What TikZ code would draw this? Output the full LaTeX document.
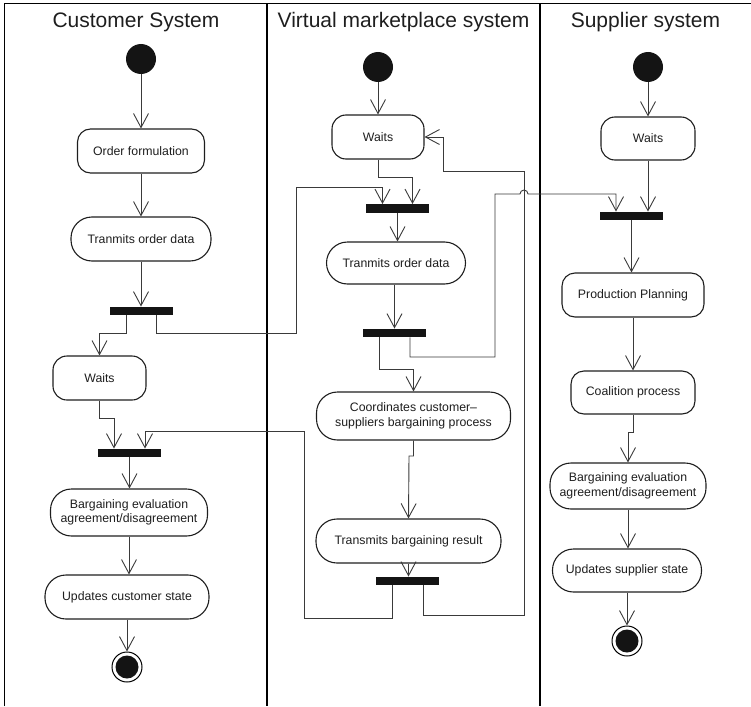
\documentclass[tikz,border=0pt]{standalone}
\usepackage{fontspec}
\setmainfont{Liberation Sans}
\usetikzlibrary{arrows.meta,calc}
\definecolor{ink}{HTML}{1E1E1E}
\definecolor{wire}{HTML}{3A3A3A}
\tikzset{
  flow/.style={draw=wire, line width=0.9pt, -{Straight Barb[length=14pt,width=15pt,line width=0.9pt]}},
  actbox/.style={draw=ink, line width=1.1pt, rounded corners=13pt, align=center,
    font=\fontsize{12.3}{14.5}\selectfont, text=ink, inner sep=0pt},
  pill/.style={actbox, rounded corners=21pt},
  syncbar/.style={fill=black!92, draw=none, minimum width=63pt, minimum height=8.5pt, inner sep=0pt},
  startdot/.style={circle, fill=black!92, minimum size=30pt, inner sep=0pt},
  enddot/.style={circle, draw=black, line width=1pt, minimum size=30pt, inner sep=0pt,
    path picture={\fill[black!92] (path picture bounding box.center) circle (11.5pt);}},
  laneline/.style={draw=black, line width=2.2pt},
  header/.style={font=\fontsize{21}{25}\selectfont, text=ink}
}
\begin{document}
\begin{tikzpicture}[x=1pt,y=-1pt]
\useasboundingbox (0,0) rectangle (751,706);

% swimlane frame
\draw[black, line width=1.6pt] (4.5,706) -- (4.5,3.5) -- (751,3.5);
\draw[laneline] (267,3.5) -- (267,706);
\draw[laneline] (540,3.5) -- (540,706);

\node[header] (hcust) at (136,22) {Customer System};
\node[header] (hvm) at (403.5,22) {Virtual marketplace system};
\node[header] (hsup) at (645.5,22) {Supplier system};

% customer lane
\node[startdot] (c0) at (141,59) {};
\node[actbox, minimum width=127pt, minimum height=44pt] (cof) at (141,151) {Order formulation};
\node[pill, minimum width=140pt, minimum height=44pt] (cto) at (141,239) {Tranmits order data};
\node[syncbar] (cb1) at (141,311) {};
\node[actbox, rounded corners=14pt, minimum width=93pt, minimum height=44pt] (cw) at (99.5,378) {Waits};
\node[syncbar] (cb2) at (129.5,453) {};
\node[pill, minimum width=157pt, minimum height=47pt] (cbe) at (129,512.5) {Bargaining evaluation\\agreement/disagreement};
\node[pill, minimum width=164pt, minimum height=44pt] (cup) at (127,597) {Updates customer state};
\node[enddot] (cf) at (127,667) {};

% marketplace lane
\node[startdot] (v0) at (378,67) {};
\node[actbox, rounded corners=14pt, minimum width=92pt, minimum height=44pt] (vw) at (378,137) {Waits};
\node[syncbar] (vb1) at (397.5,208.5) {};
\node[pill, minimum width=139pt, minimum height=42pt] (vto) at (396,263) {Tranmits order data};
\node[syncbar] (vb2) at (394.5,333) {};
\node[pill, minimum width=194pt, minimum height=48pt] (vco) at (413.5,416) {Coordinates customer–\\suppliers bargaining process};
\node[pill, minimum width=185pt, minimum height=44pt] (vtb) at (408.5,541) {Transmits bargaining result};
\node[syncbar] (vb3) at (407.5,581) {};

% supplier lane
\node[startdot] (s0) at (648,67) {};
\node[actbox, rounded corners=14pt, minimum width=94pt, minimum height=43pt] (sw) at (648,138.5) {Waits};
\node[syncbar] (sb1) at (631.5,216) {};
\node[actbox, minimum width=142pt, minimum height=44pt] (spp) at (633,295) {Production Planning};
\node[actbox, minimum width=124pt, minimum height=43pt] (scp) at (633,392.5) {Coalition process};
\node[pill, minimum width=156pt, minimum height=46pt] (sbe) at (628,486) {Bargaining evaluation\\agreement/disagreement};
\node[pill, minimum width=149pt, minimum height=43pt] (sup) at (627,570.5) {Updates supplier state};
\node[enddot] (sf) at (627,641) {};

% customer flow
\draw[flow] (c0.south) -- (c0.south |- cof.north);
\draw[flow] (cof.south) -- (cof.south |- cto.north);
\draw[flow] (cto.south) -- (cto.south |- cb1.north);
\draw[flow] ($(cb1.south)+(-15,0)$) |- (99.5,333) -- (cw.north);
\draw[flow] (cw.south) |- (114,418) -- ($(cb2.north)+(-15.5,0)$);
\draw[flow] (cb2.south) -- (cb2.south |- cbe.north);
\draw[flow] (cbe.south) -- (cbe.south |- cup.north);
\draw[flow] (cup.south) -- (cup.south |- cf.north);

% order data handed to the marketplace
\draw[flow] ($(cb1.south)+(15,0)$) |- (296,333) |- (382.5,187) -- ($(vb1.north)+(-15,0)$);

% marketplace flow
\draw[flow] (v0.south) -- (vw.north);
\draw[flow] (vw.south) |- (412.5,177) -- ($(vb1.north)+(15,0)$);
\draw[flow] (vb1.south) -- (vb1.south |- vto.north);
\draw[flow] (vb2.north |- vto.south) -- (vb2.north);
\draw[flow] ($(vb2.south)+(-15.5,0)$) |- (413.5,369) -- (vco.north);
\draw[flow] (vco.south) |- (409,456) -- (vtb.north);
\draw[flow] (vtb.south) -- (vtb.south |- vb3.north);

% order data forwarded to the supplier, hopping over the return line
\draw[flow] ($(vb2.south)+(15.5,0)$) |- (495,357) |- (520,194)
  arc[start angle=180, end angle=0, radius=4pt] -- (616,194) -- ($(sb1.north)+(-15.5,0)$);

% bargaining result back to the customer and to the marketplace
\draw[flow] ($(vb3.south)+(-15.5,0)$) |- (304,618) |- (145,431) -- ($(cb2.north)+(15.5,0)$);
\draw[flow] ($(vb3.south)+(15.5,0)$) |- (524,615) |- (443,171) |- (vw.east);

% supplier flow
\draw[flow] (s0.south) -- (sw.north);
\draw[flow] (sw.south) -- (sw.south |- sb1.north);
\draw[flow] (sb1.south) -- (sb1.south |- spp.north);
\draw[flow] (spp.south) -- (spp.south |- scp.north);
\draw[flow] (scp.south) |- (628,432) -- (sbe.north);
\draw[flow] (sbe.south) -- (sbe.south |- sup.north);
\draw[flow] (sup.south) -- (sup.south |- sf.north);
\end{tikzpicture}
\end{document}
